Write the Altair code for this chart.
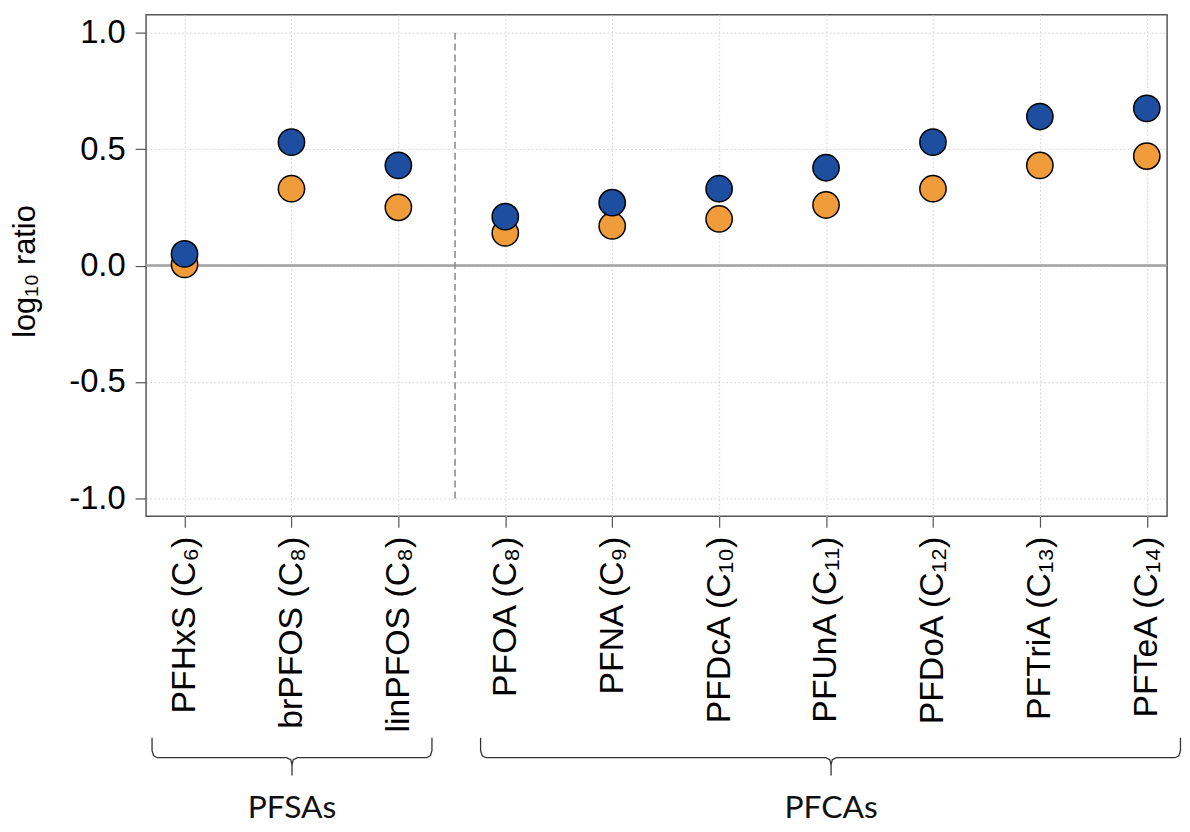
import altair as alt
import pandas as pd

# ---- data ----
categories = ["PFHxS (C₆)", "brPFOS (C₈)", "linPFOS (C₈)", "PFOA (C₈)", "PFNA (C₉)",
              "PFDcA (C₁₀)", "PFUnA (C₁₁)", "PFDoA (C₁₂)", "PFTriA (C₁₃)", "PFTeA (C₁₄)"]
positions = list(range(1, 11))
blue_values = [0.05, 0.53, 0.43, 0.21, 0.27, 0.33, 0.42, 0.53, 0.64, 0.675]
orange_values = [0.005, 0.33, 0.25, 0.14, 0.17, 0.20, 0.26, 0.33, 0.43, 0.47]
y_ticks = [-1.0, -0.5, 0.0, 0.5, 1.0]
groups = ["PFSAs", "PFCAs"]
group_start = [0.696, 3.769]
group_end = [3.314, 10.315]
group_center = [2.005, 7.047]
divider_x = 3.53

X_DOMAIN = [0.64, 10.19]
Y_DOMAIN = [-1.077, 1.077]
PLOT_W, PLOT_H = 1028, 505
BLUE = "#1d4e9f"
ORANGE = "#f19c3b"
FONT = "Liberation Sans"

xs = alt.Scale(domain=X_DOMAIN, nice=False, zero=False)
ys = alt.Scale(domain=Y_DOMAIN, nice=False, zero=False)

label_expr = "[" + ",".join("'" + c + "'" for c in categories) + "][datum.value - 1]"

x_axis = alt.Axis(values=positions, labelExpr=label_expr, labelAngle=-90, title=None,
                  grid=True, gridColor="#cfcfcf", gridDash=[1.5, 2.5], gridWidth=1,
                  tickSize=11, tickColor="#555555", tickWidth=1.2, domain=False,
                  labelFont=FONT, labelFontSize=34, labelColor="#000000", labelPadding=9,
                  labelLimit=400)
y_axis = alt.Axis(values=y_ticks, labelExpr="replace(format(datum.value, '.1f'), '\u2212', '-')",
                  title="log₁₀ ratio", titleFont=FONT, titleFontSize=31, titleFontWeight="normal",
                  titleColor="#000000", titleX=-105, titleY=258,
                  grid=True, gridColor="#cfcfcf", gridDash=[1.5, 2.5], gridWidth=1,
                  tickSize=11, tickColor="#555555", tickWidth=1.2, domain=False,
                  labelFont=FONT, labelFontSize=33, labelColor="#000000", labelPadding=10)


def X(field="pos"):
    return alt.X(field + ":Q", scale=xs, axis=x_axis)


def Y(field="value"):
    return alt.Y(field + ":Q", scale=ys, axis=y_axis)


pts = pd.DataFrame({
    "pos": positions * 2,
    "value": orange_values + blue_values,
    "series": ["orange"] * 10 + ["blue"] * 10,
})

points = alt.Chart(pts).mark_circle(size=700, stroke="#000000", strokeWidth=1.5, opacity=1).encode(
    x=X(), y=Y(),
    color=alt.Color("series:N", scale=alt.Scale(domain=["orange", "blue"], range=[ORANGE, BLUE]), legend=None),
)

zero = alt.Chart(pd.DataFrame({"value": [0.0]})).mark_rule(color="#a0a0a0", strokeWidth=2.5).encode(y=Y())

divider = alt.Chart(pd.DataFrame({"pos": [divider_x], "value": [-1.0], "value2": [1.0]})).mark_rule(
    color="#888888", strokeWidth=1.5, strokeDash=[7, 4]).encode(x=X(), y=Y(), y2="value2:Q")


def py_to_value(py):
    # pixel offset below the top of the plot area -> y data units
    return Y_DOMAIN[1] - py / PLOT_H * (Y_DOMAIN[1] - Y_DOMAIN[0])


rows = []
for g, L, R, C in zip(groups, group_start, group_end, group_center):
    arms = {
        "L": [(L, 728), (L, 741), (L + 0.015, 746), (L + 0.05, 748), (C - 0.05, 748), (C - 0.012, 750), (C, 755), (C, 766)],
        "R": [(R, 728), (R, 741), (R - 0.015, 746), (R - 0.05, 748), (C + 0.05, 748), (C + 0.012, 750), (C, 755)],
    }
    for side, path in arms.items():
        for i, (bx, by) in enumerate(path):
            rows.append({"seg": g + side, "i": i, "pos": bx, "value": py_to_value(by)})
braces = alt.Chart(pd.DataFrame(rows)).mark_line(color="#333333", strokeWidth=1.3).encode(
    x=X(), y=Y(), detail="seg:N", order="i:Q")

group_text = alt.Chart(pd.DataFrame({"g": groups, "pos": group_center})).mark_text(
    font="Lato", fontSize=32, baseline="alphabetic", align="center", color="#111111").encode(
    x=X(), y=alt.value(809), text="g:N")

chart = alt.layer(zero, divider, points, braces, group_text).properties(
    width=PLOT_W, height=PLOT_H,
    padding={"left": 139, "top": 4, "right": 15, "bottom": 315},
    autosize=alt.AutoSizeParams(type="none"),
).configure_view(stroke="#555555", strokeWidth=1.5)

chart.save("out.html", embed_options={"renderer": "svg", "actions": False})
